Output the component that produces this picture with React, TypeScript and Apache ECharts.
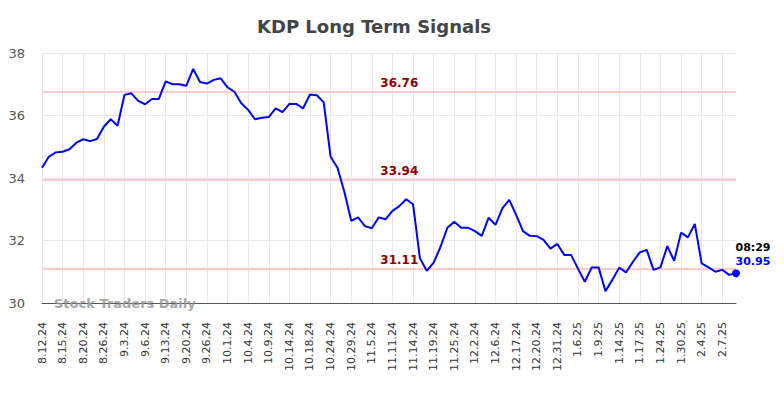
import React, { useEffect, useRef } from "react";
import * as echarts from "echarts";

const dates: string[] = [
  "8.12.24", "8.13.24", "8.14.24", "8.15.24", "8.16.24", "8.19.24", "8.20.24", "8.21.24", "8.22.24",
  "8.26.24", "8.28.24", "8.30.24", "9.3.24", "9.4.24", "9.5.24", "9.6.24", "9.10.24", "9.11.24",
  "9.13.24", "9.16.24", "9.18.24", "9.20.24", "9.23.24", "9.25.24", "9.26.24", "9.27.24", "9.30.24",
  "10.1.24", "10.2.24", "10.3.24", "10.4.24", "10.7.24", "10.8.24", "10.9.24", "10.10.24", "10.11.24",
  "10.14.24", "10.16.24", "10.17.24", "10.18.24", "10.21.24", "10.23.24", "10.24.24", "10.25.24", "10.28.24",
  "10.29.24", "10.31.24", "11.4.24", "11.5.24", "11.6.24", "11.8.24", "11.11.24", "11.12.24", "11.13.24",
  "11.14.24", "11.15.24", "11.18.24", "11.19.24", "11.20.24", "11.22.24", "11.25.24", "11.26.24", "11.29.24",
  "12.2.24", "12.3.24", "12.5.24", "12.6.24", "12.10.24", "12.13.24", "12.17.24", "12.18.24", "12.19.24",
  "12.20.24", "12.24.24", "12.27.24", "12.31.24", "1.2.25", "1.3.25", "1.6.25", "1.7.25", "1.8.25",
  "1.9.25", "1.10.25", "1.13.25", "1.14.25", "1.15.25", "1.16.25", "1.17.25", "1.21.25", "1.22.25",
  "1.24.25", "1.27.25", "1.29.25", "1.30.25", "1.31.25", "2.3.25", "2.4.25", "2.5.25", "2.6.25",
  "2.7.25", "2.10.25", "2.11.25",
];

const prices: number[] = [
  34.33, 34.68, 34.82, 34.84, 34.92, 35.13, 35.24, 35.18, 35.25, 35.64,
  35.88, 35.67, 36.66, 36.71, 36.47, 36.36, 36.53, 36.53, 37.09, 37.0,
  37.0, 36.95, 37.49, 37.07, 37.02, 37.14, 37.19, 36.9, 36.76, 36.39,
  36.18, 35.88, 35.93, 35.95, 36.23, 36.11, 36.37, 36.37, 36.23, 36.67,
  36.65, 36.42, 34.68, 34.33, 33.56, 32.63, 32.74, 32.46, 32.39, 32.74,
  32.68, 32.95, 33.1, 33.32, 33.16, 31.43, 31.03, 31.29, 31.8, 32.41,
  32.6, 32.41, 32.41, 32.3, 32.15, 32.73, 32.5, 33.03, 33.3, 32.82,
  32.3, 32.15, 32.14, 32.02, 31.74, 31.89, 31.54, 31.54, 31.1, 30.68,
  31.14, 31.14, 30.38, 30.74, 31.13, 30.98, 31.32, 31.62, 31.7, 31.06,
  31.14, 31.82, 31.35, 32.25, 32.1, 32.53, 31.27, 31.14, 31.0, 31.06,
  30.9, 30.95,
];

const signalLevels: number[] = [36.76, 33.94, 31.11];
const yTicks = { min: 30, max: 38, interval: 2 };
const lastTime = "08:29";
const titleText = "KDP Long Term Signals";
const watermark = "Stock Traders Daily";

const FONT = "DejaVu Sans";

export default function App() {
  const ref = useRef<HTMLDivElement>(null);

  useEffect(() => {
    if (!ref.current) return;
    const chart = echarts.init(ref.current, undefined, { renderer: "svg" });
    const lastIdx = prices.length - 1;
    const labelIdx = 52;

    chart.setOption({
      animation: false,
      backgroundColor: "#ffffff",
      textStyle: { fontFamily: FONT },
      grid: { left: 42, right: 48, top: 53, bottom: 95, containLabel: false },
      graphic: [
        {
          type: "text",
          x: 374,
          y: 26,
          style: {
            text: titleText,
            fontFamily: FONT,
            fontSize: 18,
            fontWeight: "bold",
            fill: "#444444",
            textAlign: "center",
            textVerticalAlign: "middle",
          },
        },
        {
          type: "text",
          x: 54,
          y: 303,
          z: 10,
          style: {
            text: watermark,
            fontFamily: FONT,
            fontSize: 13,
            fontWeight: "bold",
            fill: "rgba(150,150,150,0.85)",
            textAlign: "left",
            textVerticalAlign: "middle",
          },
        },
      ],
      xAxis: {
        type: "category",
        data: dates,
        boundaryGap: false,
        axisLine: { show: true, lineStyle: { color: "#555555", width: 1 } },
        axisTick: { show: false, interval: 2 },
        axisLabel: {
          interval: 2,
          rotate: 90,
          margin: 19,
          fontFamily: FONT,
          fontSize: 11,
          color: "#333333",
        },
        splitLine: { show: true, interval: 2, lineStyle: { color: "#e8e8e8", width: 1 } },
      },
      yAxis: {
        type: "value",
        min: yTicks.min,
        max: yTicks.max,
        interval: yTicks.interval,
        axisLine: { show: false },
        axisTick: { show: false },
        axisLabel: { margin: 17, fontFamily: FONT, fontSize: 13, color: "#555555" },
        splitLine: { show: true, lineStyle: { color: "#e8e8e8", width: 1 } },
      },
      series: [
        {
          type: "line",
          data: prices,
          symbol: "none",
          lineStyle: { color: "#0000ff", width: 2 },
          z: 5,
          markLine: {
            silent: true,
            symbol: "none",
            lineStyle: { color: "#ffcccc", width: 2, type: "solid" },
            label: { show: false },
            data: signalLevels.map((v) => ({ yAxis: v })),
          },
          markPoint: {
            silent: true,
            data: [
              ...signalLevels.map((v) => ({
                coord: [dates[labelIdx], v],
                symbol: "rect",
                symbolSize: 1,
                itemStyle: { color: "rgba(0,0,0,0)" },
                label: {
                  show: true,
                  position: "top",
                  distance: 2,
                  formatter: v.toFixed(2),
                  fontFamily: FONT,
                  fontSize: 12,
                  fontWeight: "bold",
                  color: "#8b0000",
                },
              })),
              {
                coord: [dates[lastIdx], prices[lastIdx]],
                symbol: "circle",
                symbolSize: 8,
                itemStyle: { color: "#0000ff" },
                label: { show: false },
              },
              {
                coord: [dates[lastIdx], prices[lastIdx]],
                symbol: "rect",
                symbolSize: 1,
                itemStyle: { color: "rgba(0,0,0,0)" },
                label: {
                  show: true,
                  position: [0, -4],
                  align: "left",
                  verticalAlign: "bottom",
                  formatter: `{t|${lastTime}}\n{v|${prices[lastIdx].toFixed(2)}}`,
                  rich: {
                    t: { fontFamily: FONT, fontSize: 11, fontWeight: "bold", color: "#000000", lineHeight: 14 },
                    v: { fontFamily: FONT, fontSize: 11, fontWeight: "bold", color: "#0000ff", lineHeight: 14 },
                  },
                },
              },
            ],
          },
        },
      ],
    });

    return () => chart.dispose();
  }, []);

  return (
    <div
      ref={ref}
      style={{ position: "fixed", left: 0, top: 0, width: 784, height: 398 }}
    />
  );
}
